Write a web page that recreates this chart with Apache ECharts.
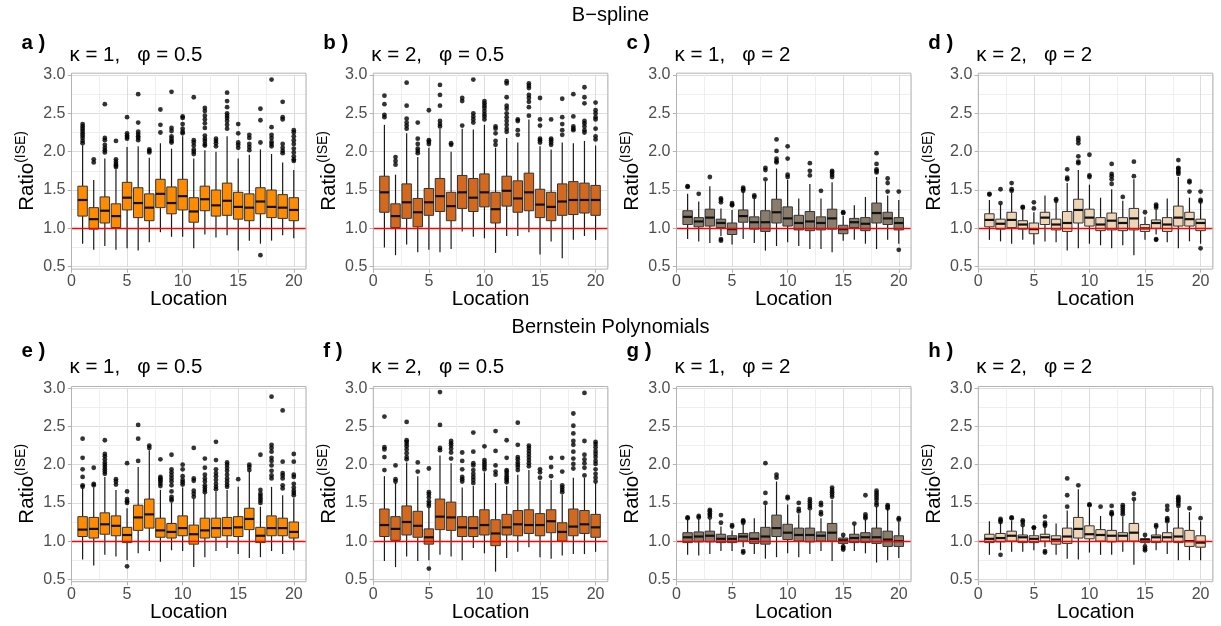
<!DOCTYPE html>
<html><head><meta charset="utf-8">
<script src="https://cdn.jsdelivr.net/npm/echarts@6/dist/echarts.min.js"></script>
<style>html,body{margin:0;padding:0;background:#fff}#c{width:1221px;height:626px}</style>
</head><body><div id="c"></div>
<script>
// ---------------- data ----------------
const locations = [1,2,3,4,5,6,7,8,9,10,11,12,13,14,15,16,17,18,19,20];
const xTicks = [0,5,10,15,20];
const yTicks = [0.5,1.0,1.5,2.0,2.5,3.0];
const refValue = 1;
const rowTitles = ['B\u2212spline', 'Bernstein Polynomials'];
const panelTags = ['a )','b )','c )','d )','e )','f )','g )','h )'];
const panelTitles = ['\u03ba = 1,   \u03c6 = 0.5','\u03ba = 2,   \u03c6 = 0.5','\u03ba = 1,   \u03c6 = 2','\u03ba = 2,   \u03c6 = 2',
                     '\u03ba = 1,   \u03c6 = 0.5','\u03ba = 2,   \u03c6 = 0.5','\u03ba = 1,   \u03c6 = 2','\u03ba = 2,   \u03c6 = 2'];
const fills = ['#FF8C00','#D2691E','#8B7D6B','#EED5B7','#FF8C00','#D2691E','#8B7D6B','#EED5B7'];

// [lower whisker, Q1, median, Q3, upper whisker]
const boxesA = [[0.80,1.16,1.37,1.55,2.08],[0.72,0.99,1.12,1.27,1.63],[0.77,1.07,1.23,1.41,1.91],[0.72,1.01,1.16,1.32,1.77],[0.74,1.24,1.40,1.60,2.06],
 [0.71,1.14,1.33,1.53,2.07],[0.82,1.10,1.27,1.45,1.92],[0.95,1.27,1.45,1.64,2.11],[0.89,1.19,1.33,1.54,2.04],[0.89,1.24,1.42,1.64,2.20],
 [0.74,1.08,1.22,1.40,1.91],[0.92,1.23,1.38,1.55,2.02],[0.88,1.16,1.30,1.50,2.00],[0.91,1.17,1.36,1.59,2.20],[0.71,1.12,1.28,1.47,1.91],
 [0.84,1.10,1.27,1.45,1.96],[0.80,1.19,1.35,1.53,2.03],[0.84,1.14,1.28,1.50,1.97],[0.91,1.13,1.27,1.44,1.86],[0.87,1.10,1.24,1.40,1.76]];
const outliersA = [[2.11,2.14,2.18,2.21,2.24,2.27,2.30,2.33,2.36],[1.86,1.90],[1.99,2.02,2.05,2.09,2.15,2.18,2.62],[1.80,1.82,1.84,1.87,1.90,2.14],[2.17,2.19,2.21,2.24,2.45],
 [2.15,2.18,2.20,2.23,2.26,2.38,2.75],[1.99,2.01,2.03],[2.25,2.35,2.55],[2.12,2.14,2.17,2.20,2.27,2.31,2.78],[2.24,2.26,2.30,2.36,2.44,2.46],
 [1.97,2.00,2.03,2.08,2.12,2.15,2.71],[2.08,2.10,2.14,2.17,2.21,2.31,2.37,2.42,2.47,2.53,2.57],[2.07,2.11,2.14,2.17],[2.30,2.35,2.40,2.44,2.47,2.50,2.58,2.66,2.77],[2.05,2.09,2.12,2.24,2.36],
 [2.02,2.06,2.10,2.18,2.22],[0.65,2.12,2.41,2.56],[2.07,2.10,2.13,2.18,2.22,2.32,2.94],[1.98,2.01,2.05,2.10,2.42,2.45,2.65],[1.88,1.90,1.94,1.99,2.04,2.10,2.15,2.20,2.25,2.28]];

const boxesB = [[0.75,1.21,1.47,1.68,2.35],[0.65,1.01,1.16,1.32,1.70],[0.79,1.13,1.34,1.58,2.24],[0.69,1.02,1.21,1.39,1.93],[0.72,1.17,1.34,1.52,2.05],
 [0.69,1.22,1.42,1.65,2.30],[0.73,1.10,1.29,1.47,2.00],[0.96,1.26,1.47,1.69,2.30],[0.89,1.22,1.40,1.65,2.29],[0.87,1.28,1.47,1.71,2.35],
 [0.68,1.07,1.25,1.47,2.05],[0.90,1.29,1.49,1.68,2.18],[0.90,1.21,1.39,1.62,2.12],[0.95,1.23,1.47,1.72,2.42],[0.66,1.14,1.31,1.51,2.07],
 [0.83,1.10,1.28,1.47,2.03],[0.61,1.17,1.35,1.58,2.12],[0.85,1.18,1.37,1.61,2.11],[0.90,1.20,1.37,1.59,2.14],[0.85,1.17,1.37,1.56,2.08]];
const outliersB = [[2.45,2.48,2.62,2.73],[1.83,1.88,1.93],[2.30,2.34,2.38,2.43,2.60,2.90],[1.98,2.01,2.04,2.10,2.17,2.38],[2.10,2.13,2.15,2.54],
 [2.33,2.36,2.40,2.60,2.74,2.87],[2.09,2.11],[2.34,2.66,2.70],[2.38,2.42,2.46,2.50,2.94],[2.42,2.46,2.49,2.53,2.57,2.60,2.63,2.66],
 [2.09,2.14,2.24,2.30,2.33],[2.26,2.30,2.35,2.40,2.45,2.50,2.56,2.60,2.71,2.89,2.92],[2.22,2.28,2.40,2.42],[2.47,2.58,2.65,2.70,2.74,2.83,2.86,2.89],[2.12,2.15,2.17,2.34,2.42,2.70],
 [2.09,2.12,2.15,2.17,2.42],[2.22,2.28,2.36,2.45,2.69],[2.28,2.30,2.33,2.46,2.75],[2.25,2.28,2.33,2.37,2.40,2.63,2.71,2.84],[2.16,2.20,2.30,2.42,2.45,2.50,2.54,2.64]];

const boxesC = [[0.86,1.05,1.15,1.23,1.45],[0.83,1.02,1.09,1.14,1.35],[0.81,1.03,1.14,1.25,1.55],[0.90,1.01,1.07,1.12,1.26],[0.79,0.92,0.99,1.07,1.24],
 [0.86,1.08,1.16,1.24,1.47],[0.81,0.99,1.08,1.15,1.39],[0.71,0.96,1.08,1.23,1.61],[0.77,1.07,1.21,1.38,1.78],[0.82,1.03,1.13,1.28,1.63],
 [0.77,0.98,1.07,1.17,1.39],[0.73,0.97,1.09,1.22,1.58],[0.73,0.98,1.07,1.15,1.39],[0.69,0.99,1.13,1.25,1.60],[0.84,0.93,0.99,1.04,1.16],
 [0.85,1.01,1.08,1.13,1.30],[0.80,0.97,1.06,1.14,1.41],[0.73,1.07,1.20,1.33,1.67],[0.85,1.05,1.13,1.21,1.43],[0.80,0.98,1.07,1.14,1.37]];
const outliersC = [[1.54,1.55],[1.45],[1.67],[0.84,0.86,1.34,1.37,1.39],[1.30,1.31,1.33],
 [1.49,1.51,1.53],[1.41,1.43],[1.64,1.76,1.79],[1.86,1.88,1.91,2.01,2.16],[1.67,1.70,1.91,2.07],
 [],[1.69,1.75,1.85],[1.49],[1.67,1.70,1.73,1.75],[1.20,1.21],
 [],[],[1.73,1.75,1.77,1.84,1.98],[1.48,1.59,1.65],[0.72,1.48]];

const boxesD = [[0.85,1.02,1.11,1.19,1.37],[0.83,0.99,1.06,1.12,1.31],[0.80,1.01,1.11,1.21,1.46],[0.85,0.99,1.05,1.10,1.24],[0.79,0.93,0.99,1.07,1.21],
 [0.83,1.05,1.14,1.21,1.43],[0.82,0.98,1.05,1.12,1.34],[0.71,0.96,1.07,1.22,1.59],[0.74,1.07,1.24,1.38,1.76],[0.80,1.03,1.14,1.25,1.57],
 [0.78,0.97,1.05,1.14,1.40],[0.74,0.98,1.10,1.20,1.51],[0.78,0.97,1.07,1.14,1.36],[0.65,0.98,1.13,1.26,1.64],[0.85,0.96,1.00,1.05,1.15],
 [0.92,1.00,1.07,1.11,1.24],[0.82,0.96,1.05,1.14,1.39],[0.74,1.03,1.14,1.29,1.67],[0.83,1.03,1.12,1.21,1.40],[0.80,0.97,1.07,1.12,1.33]];
const outliersD = [[1.44,1.45],[1.33,1.51],[1.49,1.51,1.59],[1.27,1.28],[1.26,1.34],
 [],[1.36,1.38],[1.64,1.66,1.77],[1.85,1.87,1.94,2.11,2.15,2.18],[1.67,1.69,1.96],
 [],[1.58,1.64,1.68,1.71,1.84],[1.41],[1.68,1.87],[1.21],
 [0.85,0.86,1.27,1.29,1.31],[],[1.71,1.73,1.75,1.78,1.79,1.89],[1.48,1.60,1.62],[0.74,1.35,1.37,1.48]];

const boxesE = [[0.76,1.06,1.15,1.32,1.69],[0.68,1.04,1.16,1.31,1.70],[0.82,1.09,1.22,1.37,1.84],[0.80,1.07,1.20,1.33,1.67],[0.75,0.98,1.08,1.18,1.43],
 [0.84,1.14,1.31,1.47,1.97],[0.87,1.17,1.35,1.55,2.19],[0.73,1.05,1.14,1.30,1.67],[0.88,1.04,1.12,1.23,1.50],[0.87,1.07,1.17,1.33,1.70],
 [0.66,0.96,1.09,1.21,1.55],[0.79,1.04,1.14,1.30,1.62],[0.87,1.05,1.17,1.30,1.65],[0.91,1.07,1.17,1.31,1.67],[0.83,1.06,1.18,1.32,1.71],
 [0.78,1.15,1.29,1.43,1.91],[0.79,0.98,1.07,1.18,1.45],[0.87,1.07,1.17,1.33,1.71],[0.83,1.07,1.17,1.30,1.60],[0.88,1.04,1.12,1.25,1.56]];
const outliersE = [[1.71,1.73,1.84,1.94,2.09,2.34],[1.73,1.75,1.96],[1.88,1.91,1.94,1.97,2.00,2.03,2.07,2.11,2.14,2.32],[1.74,1.78,1.81],[0.67,1.50,1.52,1.55,1.65,2.02],
 [2.05,2.34,2.52],[2.22,2.25],[1.72,1.75,1.78,1.80,1.82,1.84,2.07],[1.53,1.55,1.58,1.65,1.73,1.78,1.82,1.86,1.90,1.94,2.13],[1.74,1.77,1.80,1.85,1.94,2.00],
 [1.58,1.62,1.66,1.79,1.82,2.22],[1.64,1.67,1.70,1.73,1.78,1.82,1.87,1.96,2.08],[1.68,1.71,1.75,1.80,1.85,1.89,1.94,2.06,2.30],[1.71,1.74,1.78,1.82,1.87,1.92,1.96,2.00,2.03],[1.81],
 [1.93,1.97,2.00],[1.50,1.53,1.56,1.59,1.62,1.67,2.13],[1.82,1.86,1.92,1.99,2.05,2.09,2.17,2.22,2.26,2.89],[1.69,1.73,1.82,1.86,1.89,2.04,2.71],[1.60,1.63,1.66,1.70,1.75,1.84,1.87,2.04,2.14]];

const boxesF = [[0.74,1.06,1.21,1.42,1.85],[0.66,1.01,1.16,1.32,1.76],[0.80,1.08,1.25,1.46,2.03],[0.74,1.05,1.20,1.39,1.85],[0.75,0.96,1.05,1.16,1.44],
 [0.82,1.15,1.32,1.55,2.12],[0.80,1.14,1.31,1.51,2.02],[0.75,1.06,1.18,1.32,1.70],[0.91,1.06,1.17,1.32,1.72],[0.84,1.08,1.21,1.41,1.90],
 [0.60,0.94,1.10,1.28,1.76],[0.78,1.08,1.18,1.35,1.72],[0.86,1.07,1.22,1.40,1.87],[0.92,1.10,1.21,1.41,1.93],[0.79,1.07,1.21,1.36,1.79],
 [0.77,1.11,1.26,1.41,1.80],[0.81,1.00,1.12,1.24,1.61],[0.83,1.07,1.19,1.42,1.83],[0.83,1.10,1.22,1.40,1.83],[0.86,1.05,1.18,1.35,1.76]];
const outliersF = [[1.93,2.10,2.20,2.23,2.63],[1.78,1.81,1.99],[2.07,2.10,2.15,2.20,2.24,2.27,2.30,2.32,2.56],[1.91,2.03],[0.64,1.46,1.49,1.52,1.57,1.61,1.64,1.95],
 [2.19,2.22,2.52,2.95],[2.08,2.16,2.21,2.25,2.28,2.31],[1.78,1.81,1.84,1.94,2.05,2.16],[1.76,1.80,1.84,1.88,1.93,1.99,2.02,2.17,2.42],[1.94,1.97,2.00,2.03,2.06,2.24],
 [1.87,1.91,1.99,2.18,2.44],[1.77,1.80,1.82,1.85,1.88,1.91,1.93,2.09,2.32],[1.93,1.97,2.00,2.03,2.07,2.10,2.26,2.55],[1.98,2.02,2.06,2.10,2.14,2.18,2.22,2.25],[1.83,1.90,1.94],
 [1.85,1.97,2.09],[1.64,1.67,1.70,1.73,1.91,2.09],[1.95,2.01,2.08,2.17,2.26,2.31,2.41,2.51,2.67],[1.86,1.96,2.02,2.07,2.13,2.31,2.94],[1.78,1.83,1.88,1.94,2.01,2.05,2.10,2.14,2.18,2.23,2.27,2.30]];

const boxesG = [[0.82,0.98,1.05,1.11,1.28],[0.81,0.99,1.06,1.12,1.29],[0.83,0.99,1.07,1.13,1.29],[0.87,0.98,1.03,1.09,1.19],[0.87,0.98,1.03,1.07,1.14],
 [0.92,1.00,1.06,1.10,1.22],[0.83,0.97,1.03,1.11,1.30],[0.77,0.96,1.06,1.18,1.47],[0.79,1.06,1.17,1.34,1.78],[0.84,1.02,1.11,1.22,1.48],
 [0.79,1.00,1.08,1.17,1.35],[0.83,0.99,1.08,1.17,1.40],[0.87,1.00,1.07,1.12,1.30],[0.74,1.00,1.11,1.23,1.54],[0.95,0.97,1.01,1.04,1.06],
 [0.87,0.98,1.04,1.09,1.21],[0.84,0.98,1.05,1.11,1.28],[0.72,0.97,1.05,1.17,1.45],[0.75,0.93,1.02,1.13,1.42],[0.78,0.93,1.00,1.07,1.25]];
const outliersG = [[1.30,1.31],[1.31,1.33],[1.31,1.34,1.36,1.39,1.41],[1.24,1.34],[1.19,1.21],
 [0.85,0.87,1.24,1.26,1.27],[],[1.50,1.63,2.02],[1.83,1.87],[1.56,1.58],
 [1.39,1.42,1.50],[1.43,1.46,1.49,1.52,1.55],[1.35,1.38,1.47,1.50],[1.58,1.61,1.64,1.67,1.70],[0.89,0.91,0.93,1.08],
 [1.23],[1.30,1.32,1.35,1.60],[1.47,1.50,1.54,1.57,1.60,1.63,1.66],[1.43,1.45,1.47],[1.28,1.30]];

const boxesH = [[0.82,0.98,1.03,1.09,1.26],[0.88,0.99,1.04,1.10,1.24],[0.86,1.00,1.07,1.13,1.27],[0.86,0.98,1.05,1.08,1.19],[0.88,0.98,1.03,1.07,1.14],
 [0.92,1.00,1.05,1.09,1.18],[0.82,0.96,1.02,1.07,1.23],[0.77,0.97,1.06,1.17,1.40],[0.76,1.04,1.16,1.31,1.68],[0.85,1.03,1.09,1.20,1.44],
 [0.82,1.00,1.08,1.15,1.33],[0.82,0.99,1.07,1.14,1.33],[0.86,1.00,1.07,1.11,1.32],[0.69,1.00,1.11,1.23,1.53],[0.96,0.98,1.02,1.03,1.05],
 [0.88,0.98,1.05,1.08,1.17],[0.83,0.99,1.05,1.11,1.23],[0.75,0.98,1.06,1.17,1.43],[0.75,0.93,1.00,1.14,1.38],[0.75,0.92,0.98,1.07,1.26]];
const outliersH = [[],[0.82,1.25,1.27,1.29],[1.30,1.31],[1.21,1.25,1.27],[1.17,1.18],
 [0.85,0.87,1.20,1.22,1.24,1.32],[],[1.45,1.60,1.82],[1.73],[1.47,1.48],
 [1.45],[1.35,1.36,1.38,1.46],[1.35,1.38,1.41,1.44,1.47],[1.55,1.62],[0.88,0.90,0.93,1.08],
 [1.19,1.21],[1.26,1.28,1.30,1.41,1.46],[1.46,1.49,1.52,1.54,1.56,1.58],[1.43],[1.30]];

const allBoxes = [boxesA, boxesB, boxesC, boxesD, boxesE, boxesF, boxesG, boxesH];
const allOutliers = [outliersA, outliersB, outliersC, outliersD, outliersE, outliersF, outliersG, outliersH];

// ---------------- layout ----------------
const FONT = 'Liberation Sans, Arial, Helvetica, sans-serif';
const colLefts = [71.5, 373.3, 676.5, 978.3];
const plotW = 234.5;
const rowTops = [75, 388.3];
const rowHeights = [191.7, 191];
const rowTitleTops = [5.5, 317.5];
const tagTops = [33, 341];
const titleTops = [45, 356.5];
const X_MAX = 21.1;
const BOX_W = 0.85;

const chart = echarts.init(document.getElementById('c'), null, {renderer: 'canvas'});

const grids = [], xAxes = [], yAxes = [], series = [], titles = [], graphics = [];

rowTitles.forEach((t, r) => {
  titles.push({text: t, left: 'center', top: rowTitleTops[r], padding: 0,
    textStyle: {fontFamily: FONT, fontSize: 20, fontWeight: 'normal', color: '#000'}});
});

function renderBox(fill) {
  return function (params, api) {
    const x = api.value(0);
    const lo = api.coord([x, api.value(1)]);
    const q1 = api.coord([x, api.value(2)]);
    const md = api.coord([x, api.value(3)]);
    const q3 = api.coord([x, api.value(4)]);
    const hi = api.coord([x, api.value(5)]);
    const w = api.size([BOX_W, 0])[0];
    const cx = md[0];
    return {type: 'group', children: [
      {type: 'line', shape: {x1: cx, y1: hi[1], x2: cx, y2: q3[1]}, style: {stroke: '#1a1a1a', lineWidth: 1.2}},
      {type: 'line', shape: {x1: cx, y1: q1[1], x2: cx, y2: lo[1]}, style: {stroke: '#1a1a1a', lineWidth: 1.2}},
      {type: 'rect', shape: {x: cx - w / 2, y: q3[1], width: w, height: q1[1] - q3[1]}, style: {fill: fill, stroke: '#333', lineWidth: 1}},
      {type: 'line', shape: {x1: cx - w / 2, y1: md[1], x2: cx + w / 2, y2: md[1]}, style: {stroke: '#111', lineWidth: 2.2}}
    ]};
  };
}

for (let p = 0; p < 8; p++) {
  const r = Math.floor(p / 4), c = p % 4;
  const left = colLefts[c], top = rowTops[r], h = rowHeights[r];
  grids.push({left: left, top: top, width: plotW, height: h, containLabel: false});

  titles.push({text: panelTags[p], left: left - 50, top: tagTops[r], padding: 0,
    textStyle: {fontFamily: FONT, fontSize: 20.5, fontWeight: 'bold', color: '#000'}});
  titles.push({text: panelTitles[p], left: left - 2, top: titleTops[r], padding: 0,
    textStyle: {fontFamily: FONT, fontSize: 20.5, fontWeight: 'normal', color: '#000'}});

  // main axes: grid lines + names
  xAxes.push({gridIndex: p, type: 'value', min: 0, max: X_MAX, interval: 2.5, offset: 2.3,
    axisLine: {show: false}, axisTick: {show: false}, axisLabel: {show: false},
    splitLine: {show: true, lineStyle: {color: ['#dcdcdc', '#eeeeee'], width: 1}},
    name: 'Location', nameLocation: 'middle', nameGap: 20,
    nameTextStyle: {fontFamily: FONT, fontSize: 20.5, color: '#000'}});
  yAxes.push({gridIndex: p, type: 'value', min: 0.5, max: 3.0, interval: 0.25,
    axisLine: {show: false}, axisTick: {show: false}, axisLabel: {show: false},
    splitLine: {show: true, lineStyle: {color: ['#dcdcdc', '#eeeeee'], width: 1}},
    name: '{m|Ratio}{s|(ISE)}', nameLocation: 'middle', nameRotate: 90, nameGap: 31,
    nameTextStyle: {fontFamily: FONT, color: '#000', rich: {
      m: {fontFamily: FONT, fontSize: 20.5, lineHeight: 26, color: '#000'},
      s: {fontFamily: FONT, fontSize: 14, lineHeight: 14, verticalAlign: 'top', color: '#000'}}}});
  // secondary axes: ticks + labels
  xAxes.push({gridIndex: p, type: 'value', min: 0, max: X_MAX, position: 'bottom', offset: 2.3,
    axisLine: {show: false}, splitLine: {show: false},
    axisTick: {show: true, length: 3.7, customValues: xTicks, lineStyle: {color: '#b3b3b3', width: 1}},
    axisLabel: {show: true, customValues: xTicks, margin: 5, color: '#4d4d4d', fontFamily: FONT, fontSize: 16}});
  yAxes.push({gridIndex: p, type: 'value', min: 0.5, max: 3.0, position: 'left',
    axisLine: {show: false}, splitLine: {show: false},
    axisTick: {show: true, length: 3.7, customValues: yTicks, lineStyle: {color: '#b3b3b3', width: 1}},
    axisLabel: {show: true, customValues: yTicks, margin: 6, color: '#4d4d4d', fontFamily: FONT, fontSize: 16,
      formatter: v => v.toFixed(1)}});

  const boxData = locations.map((x, i) => [x].concat(allBoxes[p][i]));
  const outData = [];
  locations.forEach((x, i) => allOutliers[p][i].forEach(v => outData.push([x, v])));

  series.push({type: 'custom', xAxisIndex: 2 * p, yAxisIndex: 2 * p, z: 2,
    encode: {x: 0, y: [1, 2, 3, 4, 5]}, data: boxData, renderItem: renderBox(fills[p]), silent: true});
  series.push({type: 'scatter', xAxisIndex: 2 * p, yAxisIndex: 2 * p, z: 3, data: outData,
    symbol: 'circle', symbolSize: 4.8, itemStyle: {color: '#000'}, silent: true,
    markLine: {silent: true, symbol: 'none', animation: false, label: {show: false},
      lineStyle: {color: '#ff0000', width: 1.3, type: 'solid'}, data: [{yAxis: refValue}]}});

  graphics.push({type: 'rect', z: 100, silent: true,
    shape: {x: left, y: top - 1.8, width: plotW, height: h + 4.2},
    style: {fill: 'none', stroke: '#b3b3b3', lineWidth: 1}});
}

chart.setOption({
  animation: false,
  backgroundColor: '#fff',
  textStyle: {fontFamily: FONT},
  title: titles,
  grid: grids,
  xAxis: xAxes,
  yAxis: yAxes,
  series: series,
  graphic: graphics
});
</script></body></html>
